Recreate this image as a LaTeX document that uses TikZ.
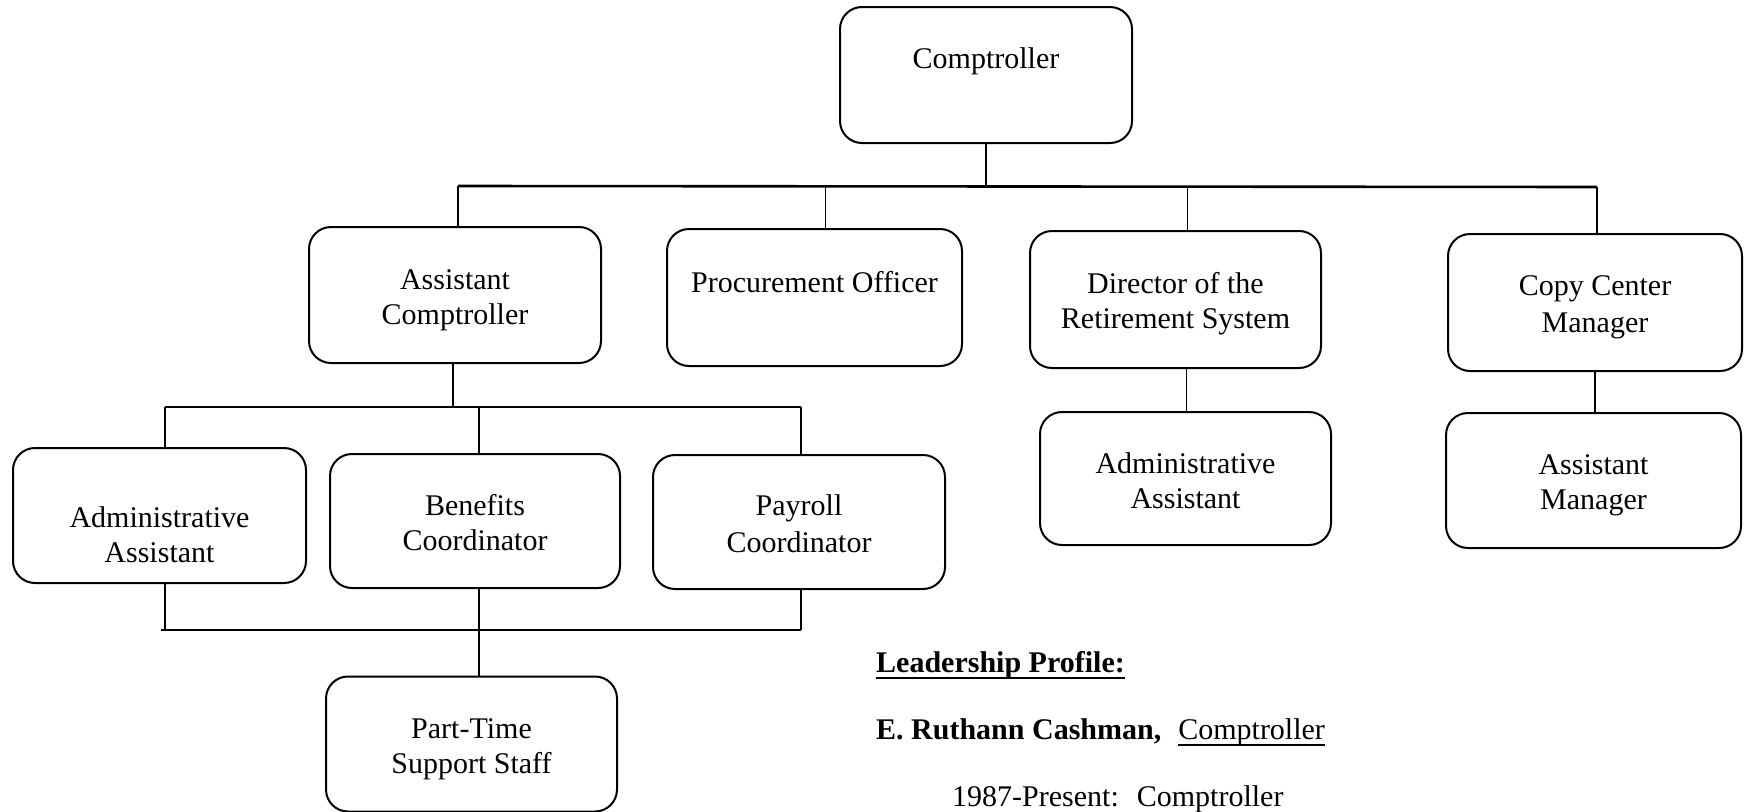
\documentclass[tikz,border=0pt]{standalone}
\usepackage{fontspec}
\setmainfont{Liberation Serif}
\newcommand\lnstrut{\rule[-5.5pt]{0pt}{35pt}}
\newcommand\myul[1]{\setbox0\hbox{#1}\rlap{\rule[-7pt]{\wd0}{2pt}}\box0}
\tikzset{
  box/.style={draw, line width=2pt, rounded corners=22pt, minimum width=292pt,
    minimum height=136pt, inner sep=0pt, align=center,
    font=\fontsize{30}{35}\selectfont},
  conn/.style={line width=1.4pt},
  busline/.style={line width=2.6pt},
  txt/.style={inner sep=0pt, anchor=base west, font=\fontsize{30}{35}\selectfont},
}
\begin{document}
\begin{tikzpicture}[x=1pt, y=-1pt]
\useasboundingbox (0,0) rectangle (1744,811);
% boxes
\node[box] (comp) at (986,75) {\lnstrut Comptroller\\\lnstrut};
\node[box] (asst) at (455,295) {\lnstrut Assistant\\\lnstrut Comptroller};
\node[box, minimum width=295pt, minimum height=137pt] (proc) at (814.5,297.5) {\lnstrut Procurement Officer\\\lnstrut};
\node[box, minimum width=291pt, minimum height=137pt] (dir) at (1175.5,299.5) {\lnstrut Director of the\\\lnstrut Retirement System};
\node[box, minimum width=294pt, minimum height=137pt] (copy) at (1595,302.5) {\lnstrut Copy Center\\\lnstrut Manager};
\node[box, minimum width=293pt, minimum height=135pt] (adm1) at (159.5,515.5) {\lnstrut\\\lnstrut Administrative\\\lnstrut Assistant};
\node[box, minimum width=290pt, minimum height=134pt] (ben) at (475,521) {\lnstrut Benefits\\\lnstrut Coordinator};
\node[box, minimum width=292pt, minimum height=134pt] (pay) at (799,522) {\lnstrut Payroll\\\lnstrut Coordinator};
\node[box, minimum width=291pt, minimum height=133pt] (adm2) at (1185.5,478.5) {\lnstrut Administrative\\\lnstrut Assistant};
\node[box, minimum width=295pt, minimum height=135pt] (amgr) at (1593.5,480.5) {\lnstrut Assistant\\\lnstrut Manager};
\node[box, minimum width=291pt, minimum height=135pt] (pt) at (471.5,744) {\lnstrut Part-Time\\\lnstrut Support Staff};
% level 1 bus
\coordinate (b1L) at (458,186);
\coordinate (b1R) at (1597,187);
\draw[busline] (b1L) -- (b1R);
\draw[conn] (comp.south) -- (comp.south |- b1L);
\draw[conn] (b1L) -- (b1L |- asst.north);
\draw[conn] ([xshift=11pt]proc.north) -- ([xshift=11pt]proc.north |- b1L);
\draw[conn] ([xshift=12pt]dir.north) -- ([xshift=12pt]dir.north |- b1L);
\draw[conn] (b1R) -- (b1R |- copy.north);
% level 2 bus
\coordinate (b2L) at (165,407);
\coordinate (b2R) at (801,407);
\draw[busline] (b2L) -- (b2R);
\draw[conn] ([xshift=-2pt]asst.south) -- ([xshift=-2pt]asst.south |- b2L);
\draw[conn] (b2L) -- (b2L |- adm1.north);
\draw[conn] ([xshift=4pt]ben.north) -- ([xshift=4pt]ben.north |- b2L);
\draw[conn] (b2R) -- (b2R |- pay.north);
% right side stems
\draw[conn] ([xshift=11pt]dir.south) -- ([xshift=11pt]dir.south |- adm2.north);
\draw[conn] (copy.south) -- (copy.south |- amgr.north);
% bottom bus
\coordinate (b3L) at (161,630);
\coordinate (b3R) at (801,630);
\draw[busline] (b3L) -- (b3R);
\draw[conn] ([xshift=5.5pt]adm1.south) -- ([xshift=5.5pt]adm1.south |- b3L);
\draw[conn] ([xshift=4pt]ben.south) -- ([xshift=4pt]ben.south |- pt.north);
\draw[conn] (b3R) -- (b3R |- pay.south);
% leadership profile
\node[txt] (lp) at (876,672) {\bfseries\myul{Leadership Profile:}};
\node[txt] (name) at (876,739) {\bfseries E. Ruthann Cashman,\hspace{17pt}\mdseries\myul{Comptroller}};
\node[txt] (yr) at (952,806) {1987-Present:\hspace{18pt}Comptroller};
\end{tikzpicture}
\end{document}
